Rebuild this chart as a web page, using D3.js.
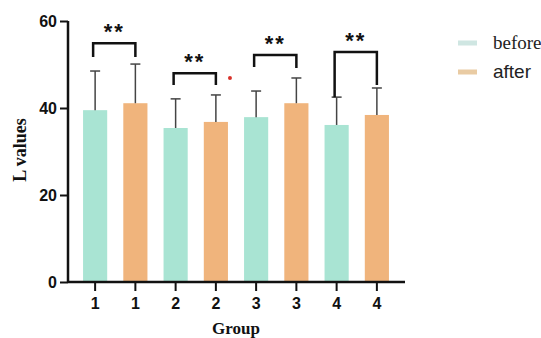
<!DOCTYPE html>
<html lang="en">
<head>
  <meta charset="UTF-8">
  <title>L values by group</title>
  <script src="https://d3js.org/d3.v7.min.js"></script>
  <style>
    body { margin: 0; background: #fff; }
  </style>
</head>
<body>
  <svg id="chart" width="541" height="338"></svg>

  <script>
    const groups = ["1", "2", "3", "4"]
    const beforeMean = [39.5, 35.4, 37.9, 36.1]
    const beforeSD = [9.0, 6.7, 6.0, 6.4]
    const afterMean = [41.1, 36.8, 41.1, 38.4]
    const afterSD = [9.0, 6.2, 5.8, 6.2]
    // significance brackets (value units): top bar, left leg end, right leg end
    const sigTop = [54.9, 48.0, 52.2, 52.9]
    const sigLeft = [51.7, 45.3, 49.4, 42.5]
    const sigRight = [51.7, 45.3, 49.2, 45.3]
    const sigText = ["**", "**", "**", "**"]
    const yTicks = [0, 20, 40, 60]

    const colors = { before: "#a9e4d3", after: "#f0b47c" }

    // flatten into bars: 1,1,2,2,...
    const bars = []
    groups.forEach((g, i) => {
      bars.push({ group: g, series: "before", mean: beforeMean[i], sd: beforeSD[i] })
      bars.push({ group: g, series: "after", mean: afterMean[i], sd: afterSD[i] })
    })

    const svg = d3.select("#chart")
    const sans = "'Liberation Sans', Arial, sans-serif"
    const serif = "'Liberation Serif', 'Times New Roman', serif"

    const x = d3.scaleBand()
      .domain(d3.range(bars.length))
      .range([75, 397])
      .paddingInner(0.4)
      .paddingOuter(0.2)

    const y = d3.scaleLinear()
      .domain([0, 60])
      .range([282, 21])

    const cx = i => x(i) + x.bandwidth() / 2

    // bars
    svg.append("g").selectAll("rect")
      .data(bars)
      .join("rect")
      .attr("x", (d, i) => x(i))
      .attr("width", x.bandwidth())
      .attr("y", d => y(d.mean))
      .attr("height", d => y(0) - y(d.mean))
      .attr("fill", d => colors[d.series])

    // error bars (upper only)
    const err = svg.append("g").attr("stroke", "#444").attr("stroke-width", 1.5)
    bars.forEach((d, i) => {
      err.append("line")
        .attr("x1", cx(i)).attr("x2", cx(i))
        .attr("y1", y(d.mean)).attr("y2", y(d.mean + d.sd))
      err.append("line")
        .attr("x1", cx(i) - 5).attr("x2", cx(i) + 5)
        .attr("y1", y(d.mean + d.sd)).attr("y2", y(d.mean + d.sd))
    })

    // significance brackets
    groups.forEach((g, i) => {
      const xl = cx(i * 2) - 2
      const xr = cx(i * 2 + 1)
      svg.append("path")
        .attr("fill", "none")
        .attr("stroke", "#111")
        .attr("stroke-width", 2.5)
        .attr("d", "M" + xl + "," + y(sigLeft[i]) + "V" + y(sigTop[i]) + "H" + xr + "V" + y(sigRight[i]))
      svg.append("text")
        .attr("x", (xl + xr) / 2)
        .attr("y", y(sigTop[i]) - 4)
        .attr("text-anchor", "middle")
        .style("font-family", sans)
        .style("font-weight", "bold")
        .style("font-size", "22px")
        .style("letter-spacing", "2px")
        .attr("fill", "#111")
        .text(sigText[i])
    })

    // stray red dot next to group 2
    svg.append("circle")
      .attr("cx", x(3) + x.bandwidth() + 2)
      .attr("cy", y(46.9))
      .attr("r", 2)
      .attr("fill", "#d8322a")

    // axes
    const yAxis = svg.append("g")
      .attr("transform", "translate(68,0)")
      .call(d3.axisLeft(y).tickValues(yTicks).tickSize(8).tickPadding(3))
    yAxis.select(".domain").attr("stroke", "#111").attr("stroke-width", 2.5)
      .attr("d", "M0," + y(60) + "V" + y(0))
    yAxis.selectAll(".tick line").attr("stroke", "#111").attr("stroke-width", 2)
    yAxis.selectAll(".tick text")
      .style("font-family", sans)
      .style("font-weight", "bold")
      .style("font-size", "16px")
      .attr("fill", "#111")

    const xAxis = svg.append("g")
      .attr("transform", "translate(0," + y(0) + ")")
      .call(d3.axisBottom(x).tickFormat(i => bars[i].group).tickSize(9).tickPadding(7))
    xAxis.select(".domain").attr("stroke", "#111").attr("stroke-width", 2.5)
      .attr("d", "M68,0H405")
    xAxis.selectAll(".tick line").attr("stroke", "#111").attr("stroke-width", 2)
    xAxis.selectAll(".tick text")
      .style("font-family", sans)
      .style("font-weight", "bold")
      .style("font-size", "16px")
      .attr("fill", "#111")

    // axis titles
    svg.append("text")
      .attr("transform", "translate(26,150) rotate(-90)")
      .attr("text-anchor", "middle")
      .style("font-family", serif)
      .style("font-weight", "bold")
      .style("font-size", "18px")
      .attr("fill", "#111")
      .text("L values")

    svg.append("text")
      .attr("x", 236)
      .attr("y", 334)
      .attr("text-anchor", "middle")
      .style("font-family", serif)
      .style("font-weight", "bold")
      .style("font-size", "17px")
      .attr("fill", "#111")
      .text("Group")

    // legend
    const legend = [
      { label: "before", color: "#cfe6e2", font: serif },
      { label: "after", color: "#e9cba3", font: sans }
    ]
    legend.forEach((d, i) => {
      const ly = 43 + i * 29
      svg.append("rect")
        .attr("x", 458).attr("y", ly - 2.5)
        .attr("width", 19).attr("height", 5)
        .attr("fill", d.color)
      svg.append("text")
        .attr("x", 493).attr("y", ly + 6)
        .style("font-family", d.font)
        .style("font-size", "19px")
        .attr("fill", "#222")
        .text(d.label)
    })
  </script>
</body>
</html>
